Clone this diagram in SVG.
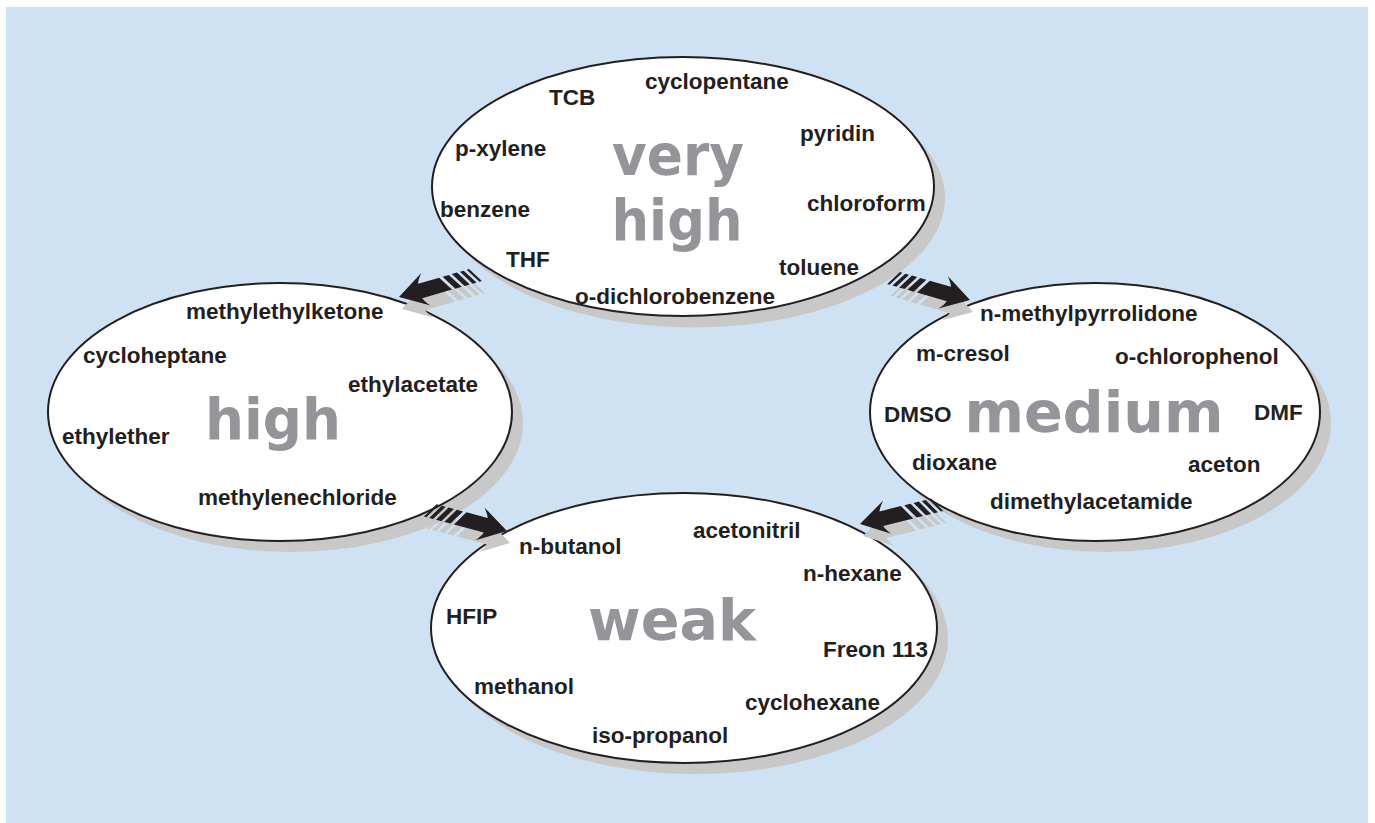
<svg xmlns="http://www.w3.org/2000/svg" xmlns:xlink="http://www.w3.org/1999/xlink" width="1375" height="823" viewBox="0 0 1375 823">
<style>
.sh{fill:#c8c8c9}
.el{fill:#ffffff;stroke:#231f20;stroke-width:2}
.t{font-family:"Liberation Sans",Arial,Helvetica,sans-serif;font-weight:bold;font-size:22.5px;fill:#231f20}
.big{font-family:"DejaVu Sans","Liberation Sans",sans-serif;font-weight:bold;font-size:57px;fill:#939598}
.ash{fill:#c8c8c9}
.ab{fill:#231f20}
</style>
<defs>
<g id="arr">
<path d="M0,0 L-28,-17 Q-23,-11 -22,-7.5 L-44,-7.5 L-53,7.5 L-22,7.5 Q-23,11 -28,17 Z"/>
<polygon points="-47.5,-7.5 -54,-7.5 -63,7.5 -56.5,7.5"/>
<polygon points="-57,-7.5 -62.5,-7.5 -71.5,7.5 -66,7.5"/>
<polygon points="-65.5,-7.5 -69.5,-7.5 -78.5,7.5 -74.5,7.5"/>
<polygon points="-72.5,-7.5 -75,-7.5 -84,7.5 -81.5,7.5"/>
</g>
</defs>
<rect x="6" y="7" width="1362" height="816" fill="#cfe2f3"/>
<g id="shadows">
<ellipse class="sh" cx="694" cy="198" rx="251" ry="129.5"/>
<ellipse class="sh" cx="291" cy="423" rx="232" ry="129"/>
<ellipse class="sh" cx="1106" cy="423" rx="225" ry="129"/>
<ellipse class="sh" cx="695" cy="639" rx="253" ry="135"/>
</g>
<g id="node-very-high">
<ellipse class="el" cx="683" cy="186.5" rx="251" ry="129.5"/>
<text class="big" x="678" y="175" text-anchor="middle" textLength="132" lengthAdjust="spacingAndGlyphs">very</text>
<text class="big" x="677" y="240" text-anchor="middle" textLength="131" lengthAdjust="spacingAndGlyphs">high</text>
<text class="t" x="549" y="105">TCB</text>
<text class="t" x="645" y="89">cyclopentane</text>
<text class="t" x="455" y="156">p-xylene</text>
<text class="t" x="800" y="141">pyridin</text>
<text class="t" x="440" y="217">benzene</text>
<text class="t" x="807" y="211">chloroform</text>
<text class="t" x="506" y="267">THF</text>
<text class="t" x="779" y="275">toluene</text>
<text class="t" x="575" y="304">o-dichlorobenzene</text>
</g>
<g id="node-high">
<ellipse class="el" cx="280" cy="412" rx="232" ry="129"/>
<text class="big" x="273" y="439" text-anchor="middle" textLength="136" lengthAdjust="spacingAndGlyphs">high</text>
<text class="t" x="186" y="319">methylethylketone</text>
<text class="t" x="83" y="363">cycloheptane</text>
<text class="t" x="348" y="392">ethylacetate</text>
<text class="t" x="62" y="444">ethylether</text>
<text class="t" x="198" y="505">methylenechloride</text>
</g>
<g id="node-medium">
<ellipse class="el" cx="1095" cy="412" rx="225" ry="129"/>
<text class="big" x="1094" y="432" text-anchor="middle" textLength="259" lengthAdjust="spacingAndGlyphs">medium</text>
<text class="t" x="980" y="321">n-methylpyrrolidone</text>
<text class="t" x="916" y="361">m-cresol</text>
<text class="t" x="1115" y="364">o-chlorophenol</text>
<text class="t" x="884" y="422">DMSO</text>
<text class="t" x="1254" y="420">DMF</text>
<text class="t" x="912" y="470">dioxane</text>
<text class="t" x="1188" y="472">aceton</text>
<text class="t" x="990" y="509">dimethylacetamide</text>
</g>
<g id="node-weak">
<ellipse class="el" cx="684" cy="628" rx="253" ry="135"/>
<text class="big" x="672" y="640" text-anchor="middle" textLength="168" lengthAdjust="spacingAndGlyphs">weak</text>
<text class="t" x="519" y="554">n-butanol</text>
<text class="t" x="693" y="538">acetonitril</text>
<text class="t" x="803" y="581">n-hexane</text>
<text class="t" x="446" y="624">HFIP</text>
<text class="t" x="823" y="657">Freon 113</text>
<text class="t" x="474" y="694">methanol</text>
<text class="t" x="745" y="710">cyclohexane</text>
<text class="t" x="592" y="743">iso-propanol</text>
</g>
<g id="connectors">
<g class="ash" transform="translate(3,12)">
<use xlink:href="#arr" href="#arr" transform="translate(399,297) rotate(-16) scale(-1,1)"/>
<use xlink:href="#arr" href="#arr" transform="translate(970,300) rotate(16)"/>
<use xlink:href="#arr" href="#arr" transform="translate(507,531) rotate(15)"/>
<use xlink:href="#arr" href="#arr" transform="translate(860,524) rotate(-14) scale(-1,1)"/>
</g>
<g class="ab">
<use xlink:href="#arr" href="#arr" transform="translate(399,297) rotate(-16) scale(-1,1)"/>
<use xlink:href="#arr" href="#arr" transform="translate(970,300) rotate(16)"/>
<use xlink:href="#arr" href="#arr" transform="translate(507,531) rotate(15)"/>
<use xlink:href="#arr" href="#arr" transform="translate(860,524) rotate(-14) scale(-1,1)"/>
</g>
</g>
</svg>
